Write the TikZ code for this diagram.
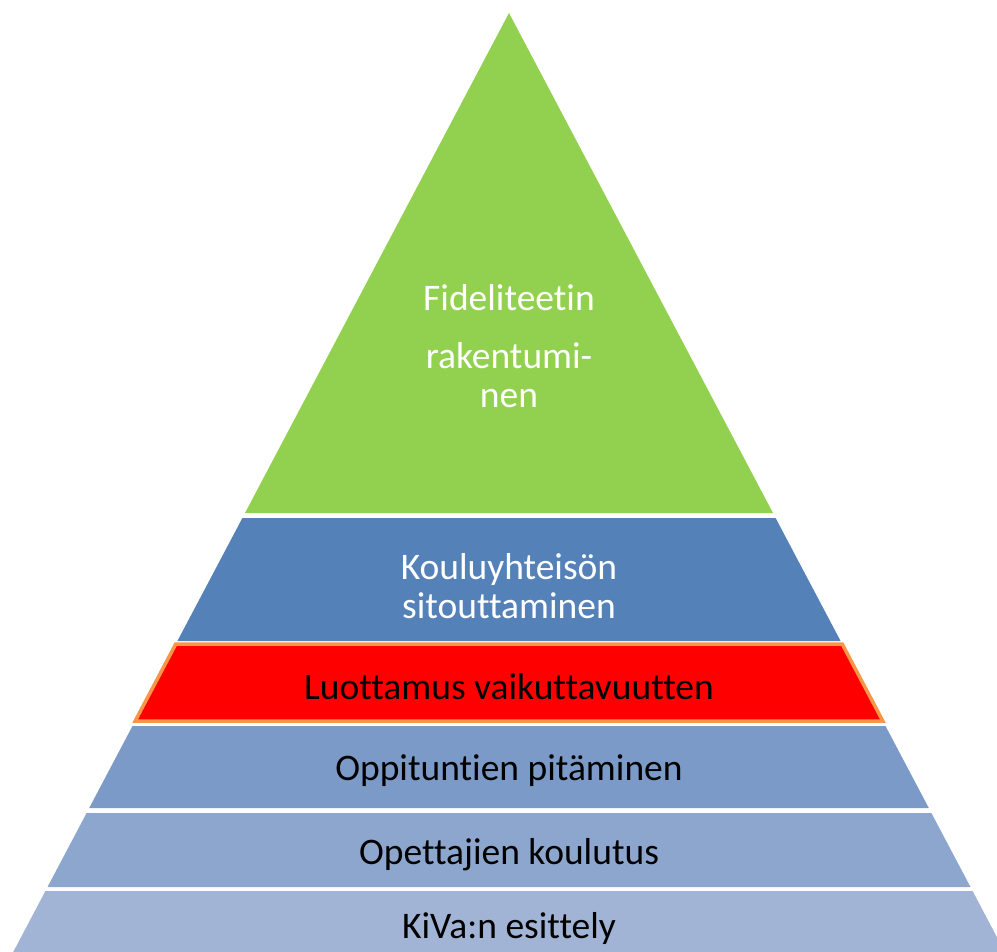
\documentclass[tikz,border=0pt]{standalone}
\usepackage{fontspec}
\setmainfont{Carlito}[Ligatures=NoCommon]
\usepackage{xcolor}
\definecolor{leaf}{HTML}{92D050}
\definecolor{steel}{HTML}{5381B8}
\definecolor{flame}{HTML}{FF0000}
\definecolor{amber}{HTML}{F79646}
\definecolor{sky1}{HTML}{7B9AC7}
\definecolor{sky2}{HTML}{8DA6CE}
\definecolor{sky3}{HTML}{A1B4D6}

\begin{document}
\begin{tikzpicture}[x=1pt,y=-1pt,font=\fontsize{37.5}{39}\selectfont]
\useasboundingbox (0,0) rectangle (997,952);
\clip (0,0) rectangle (997,952);
% pyramid levels, top to bottom
\fill[leaf] (509,13) -- (773,513) -- (245,513) -- cycle;
\fill[steel] (242.4,518) -- (775.6,518) -- (840.6,641) -- (177.4,641) -- cycle;
\filldraw[fill=flame,draw=amber,line width=3.5pt] (175.8,644) -- (842.2,644) -- (882.8,721) -- (135.2,721) -- cycle;
\fill[sky1] (132.5,726) -- (885.5,726) -- (928.8,808) -- (89.2,808) -- cycle;
\fill[sky2] (86.6,813) -- (931.4,813) -- (970.5,887) -- (47.5,887) -- cycle;
\fill[sky3] (45.4,891) -- (972.6,891) -- (1009,960) -- (9,960) -- cycle;
% labels
\node[white,align=center] (fid) at (509,346) {Fideliteetin\\[19pt]rakentumi-\\nen};
\node[white,align=center] (koulu) at (509,586) {Kouluyhteisön\\sitouttaminen};
\node (luott) at (509,687) {Luottamus vaikuttavuutten};
\node (oppi) at (509,771) {Oppituntien pitäminen};
\node (opett) at (509,855) {Opettajien koulutus};
\node (kiva) at (509,928) {KiVa:n esittely};
\end{tikzpicture}
\end{document}
